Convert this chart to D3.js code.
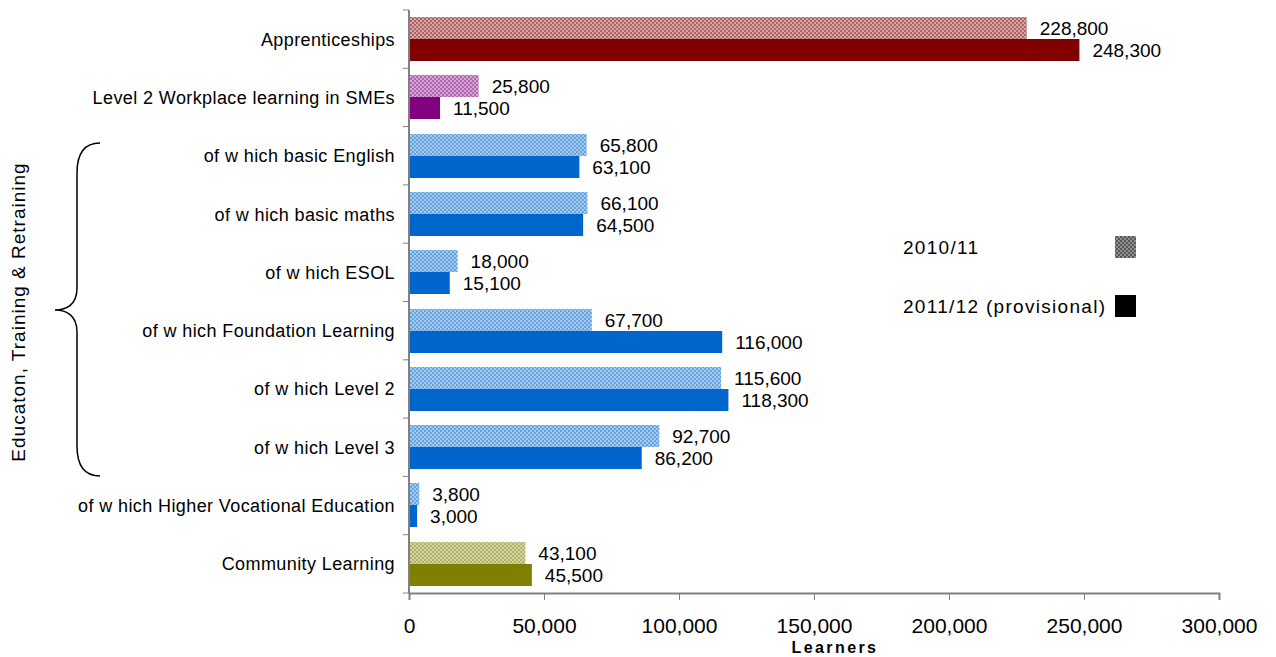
<!DOCTYPE html>
<html>
<head>
<meta charset="utf-8">
<script src="https://cdn.jsdelivr.net/npm/d3@7"></script>
<style>
  body { margin: 0; background: #fff; }
  svg { font-family: "Liberation Sans", Arial, sans-serif; }
</style>
</head>
<body>
<script>
// Data
const categories = [
  'Apprenticeships',
  'Level 2 Workplace learning in SMEs',
  'of w hich basic English ',
  'of w hich basic maths',
  'of w hich ESOL',
  'of w hich Foundation Learning',
  'of w hich Level 2',
  'of w hich Level 3',
  'of w hich Higher Vocational Education',
  'Community Learning'
]
const series = ['2010/11', '2011/12 (provisional)']
const values2010 = [228800, 25800, 65800, 66100, 18000, 67700, 115600, 92700, 3800, 43100]
const values2011 = [248300, 11500, 63100, 64500, 15100, 116000, 118300, 86200, 3000, 45500]
const barColors = ['#800000', '#800080', '#0066cc', '#0066cc', '#0066cc', '#0066cc', '#0066cc', '#0066cc', '#0066cc', '#808000']
const xTicks = [0, 50000, 100000, 150000, 200000, 250000, 300000]

const width = 1276
const height = 657
const plotLeft = 409
const plotRight = 1219
const plotTop = 10
const plotBottom = 593

const svg = d3.select('body').append('svg')
  .attr('width', width)
  .attr('height', height)

const defs = svg.append('defs')

// Checker patterns for the 2010/11 bars
function checker(id, color, base, dark) {
  const p = defs.append('pattern')
    .attr('id', id)
    .attr('width', 4)
    .attr('height', 4)
    .attr('patternUnits', 'userSpaceOnUse')
  p.append('rect').attr('width', 4).attr('height', 4).attr('fill', '#fff')
  p.append('rect').attr('width', 4).attr('height', 4).attr('fill', color).attr('opacity', base)
  p.append('rect').attr('x', 0).attr('y', 0).attr('width', 2).attr('height', 2).attr('fill', color).attr('opacity', dark)
  p.append('rect').attr('x', 2).attr('y', 2).attr('width', 2).attr('height', 2).attr('fill', color).attr('opacity', dark)
}
const uniqueColors = Array.from(new Set(barColors))
uniqueColors.forEach((c, i) => checker('pat' + i, c, 0.35, 0.4))
checker('patLegend', '#333', 0.55, 0.6)
const patFor = c => `url(#pat${uniqueColors.indexOf(c)})`

// Scales
const xScale = d3.scaleLinear()
  .domain([0, 300000])
  .range([plotLeft, plotRight])
const yScale = d3.scaleBand()
  .domain(categories)
  .range([plotTop, plotBottom])
  .padding(0)
const ySub = d3.scaleBand()
  .domain(series)
  .range([0, yScale.bandwidth()])
  .paddingOuter(0.3)
  .paddingInner(0)
  .round(true)

const rows = categories.map((c, i) => ({ cat: c, color: barColors[i], v: [values2010[i], values2011[i]] }))

// Bars
const groups = svg.selectAll('.row')
  .data(rows)
  .enter()
  .append('g')
  .attr('class', 'row')
  .attr('transform', d => `translate(0, ${Math.round(yScale(d.cat))})`)

series.forEach((s, si) => {
  groups.append('rect')
    .attr('x', xScale(0))
    .attr('y', ySub(s))
    .attr('width', d => xScale(d.v[si]) - xScale(0))
    .attr('height', ySub.bandwidth())
    .attr('fill', d => si === 0 ? patFor(d.color) : d.color)

  groups.append('text')
    .attr('x', d => xScale(d.v[si]) + 13)
    .attr('y', ySub(s) + ySub.bandwidth() / 2)
    .attr('dy', '0.36em')
    .attr('font-size', 19)
    .attr('fill', '#000')
    .text(d => d3.format(',')(d.v[si]))
})

// Y axis (tick marks at category boundaries)
const yAxis = svg.append('g').attr('id', 'y-axis')
yAxis.append('line')
  .attr('x1', plotLeft).attr('x2', plotLeft)
  .attr('y1', plotTop).attr('y2', plotBottom)
  .attr('stroke', '#808080').attr('stroke-width', 2)
yAxis.selectAll('.tick')
  .data(categories.concat(['end']))
  .enter()
  .append('line')
  .attr('x1', plotLeft - 6).attr('x2', plotLeft)
  .attr('y1', (d, i) => i < categories.length ? yScale(d) : plotBottom)
  .attr('y2', (d, i) => i < categories.length ? yScale(d) : plotBottom)
  .attr('stroke', '#808080')
yAxis.selectAll('.label')
  .data(categories)
  .enter()
  .append('text')
  .attr('x', 395)
  .attr('y', d => yScale(d) + yScale.bandwidth() / 2)
  .attr('dy', '0.36em')
  .attr('text-anchor', 'end')
  .attr('font-size', 18)
  .attr('letter-spacing', 0.4)
  .text(d => d)

// X axis
const xAxis = svg.append('g')
  .attr('id', 'x-axis')
  .attr('transform', `translate(0, ${plotBottom})`)
  .call(d3.axisBottom(xScale).tickValues(xTicks).tickSize(7).tickPadding(18).tickFormat(d3.format(',')))
xAxis.select('.domain').attr('stroke', '#808080').attr('stroke-width', 2)
xAxis.selectAll('.tick line').attr('stroke', '#808080')
xAxis.selectAll('.tick text')
  .attr('font-size', 21)
  .attr('font-family', '"Liberation Sans", Arial, sans-serif')
  .attr('fill', '#000')

svg.append('text')
  .attr('x', 835)
  .attr('y', 653)
  .attr('text-anchor', 'middle')
  .attr('font-size', 16)
  .attr('font-weight', 'bold')
  .attr('letter-spacing', 2.4)
  .text('Learners')

// Legend
const legendItems = [
  { label: series[0], fill: 'url(#patLegend)', y: 247 },
  { label: series[1], fill: '#000', y: 306 }
]
const legend = svg.append('g').attr('id', 'legend')
legendItems.forEach(d => {
  legend.append('text')
    .attr('x', 903)
    .attr('y', d.y)
    .attr('dy', '0.36em')
    .attr('font-size', 19)
    .attr('letter-spacing', 1.3)
    .text(d.label)
  legend.append('rect')
    .attr('x', 1115)
    .attr('y', d.y - 11)
    .attr('width', 21)
    .attr('height', 22)
    .attr('fill', d.fill)
})

// Brace for the Education, Training & Retraining group
const bTop = 143
const bBot = 476
const bMid = 310
svg.append('path')
  .attr('d', `M100,${bTop} C84,${bTop} 77,${bTop + 10} 77,${bTop + 30}
    L77,${bMid - 22} C77,${bMid - 5} 66,${bMid} 55,${bMid}
    C66,${bMid} 77,${bMid + 5} 77,${bMid + 22}
    L77,${bBot - 30} C77,${bBot - 10} 84,${bBot} 100,${bBot}`)
  .attr('fill', 'none')
  .attr('stroke', '#000')
  .attr('stroke-width', 1.5)

svg.append('text')
  .attr('transform', `translate(25, 312) rotate(-90)`)
  .attr('text-anchor', 'middle')
  .attr('font-size', 19)
  .attr('letter-spacing', 1)
  .text('Educaton, Training & Retraining')
</script>
</body>
</html>
